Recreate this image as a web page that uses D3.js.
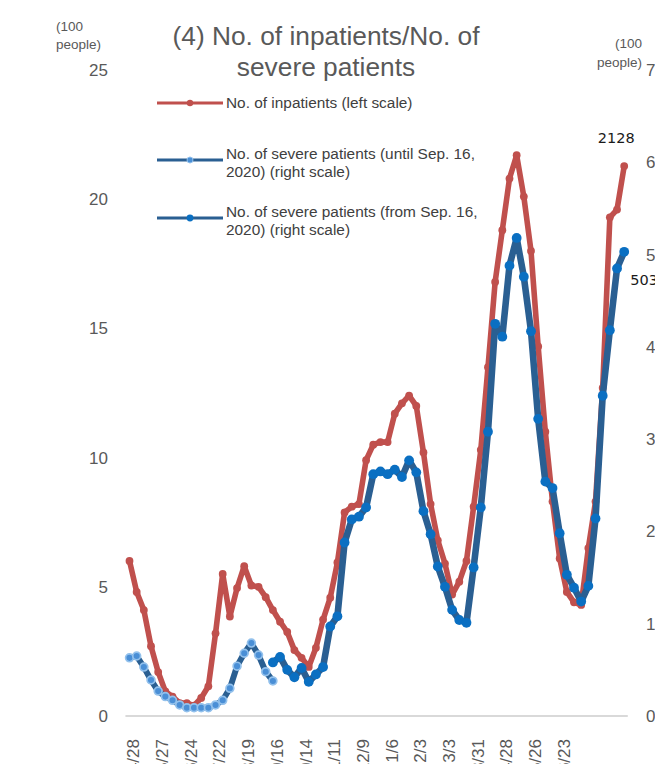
<!DOCTYPE html>
<html><head><meta charset="utf-8">
<script src="https://cdn.jsdelivr.net/npm/d3@7"></script>
<style>html,body{margin:0;padding:0;background:#fff;overflow:hidden}</style>
</head><body>
<svg id="c" width="655" height="764"></svg>
<script>
// Weekly report dates (category axis)
const dates = [
 "2020/4/28","2020/5/6","2020/5/13","2020/5/20","2020/5/27","2020/6/3","2020/6/10","2020/6/17","2020/6/24","2020/7/1",
 "2020/7/8","2020/7/15","2020/7/22","2020/7/29","2020/8/5","2020/8/12","2020/8/19","2020/8/26","2020/9/2","2020/9/9",
 "2020/9/16","2020/9/23","2020/9/30","2020/10/7","2020/10/14","2020/10/21","2020/10/28","2020/11/4","2020/11/11","2020/11/18",
 "2020/11/25","2020/12/2","2020/12/9","2020/12/16","2020/12/23","2020/12/30","2021/1/6","2021/1/13","2021/1/20","2021/1/27",
 "2021/2/3","2021/2/10","2021/2/17","2021/2/24","2021/3/3","2021/3/10","2021/3/17","2021/3/24","2021/3/31","2021/4/7",
 "2021/4/14","2021/4/21","2021/4/28","2021/5/5","2021/5/12","2021/5/19","2021/5/26","2021/6/2","2021/6/9","2021/6/16",
 "2021/6/23","2021/6/30","2021/7/7","2021/7/14","2021/7/21","2021/7/28","2021/8/4","2021/8/11","2021/8/18","2021/8/25"
];
// No. of inpatients (100 people, left scale)
const inpatients = [
 6.0,4.8,4.1,2.7,1.7,0.95,0.75,0.5,0.5,0.4,
 0.7,1.15,3.2,5.5,3.85,4.95,5.8,5.05,5.0,4.6,
 4.1,3.65,3.25,2.55,2.25,1.9,2.64,3.73,4.58,5.94,
 7.88,8.1,8.2,9.9,10.5,10.6,10.6,11.7,12.1,12.4,
 12.0,10.2,8.2,6.8,5.9,4.7,5.2,6.0,8.1,10.3,
 13.5,16.8,18.8,20.8,21.7,20.1,18.0,14.3,11.0,8.3,
 6.1,4.8,4.4,4.3,6.5,8.3,12.7,19.3,19.6,21.28
];
// No. of severe patients until Sep. 16, 2020 (100 people, right scale) — dates[0..20]
const severeUntil = [
 0.63,0.65,0.53,0.39,0.27,0.21,0.17,0.12,0.09,0.09,
 0.09,0.09,0.12,0.17,0.30,0.54,0.68,0.79,0.66,0.48,0.38
];
// No. of severe patients from Sep. 16, 2020 (100 people, right scale) — dates[20..69]
const severeFrom = [
 0.58,0.64,0.50,0.42,0.52,0.37,0.45,0.53,0.97,1.08,
 1.88,2.13,2.16,2.26,2.62,2.65,2.62,2.67,2.59,2.77,
 2.64,2.22,1.97,1.62,1.40,1.15,1.04,1.01,1.61,2.26,
 3.08,4.25,4.11,4.88,5.18,4.76,4.17,3.22,2.54,2.47,
 1.98,1.53,1.39,1.24,1.41,2.14,3.47,4.18,4.85,5.03
];
const leftTicks = [0,5,10,15,20,25];
const rightTicks = [0,1,2,3,4,5,6,7];
const xTickDates = ["2020/4/28","2020/5/27","2020/6/24","2020/7/22","2020/8/19","2020/9/16","2020/10/14","2020/11/11",
 "2020/12/9","2021/1/6","2021/2/3","2021/3/3","2021/3/31","2021/4/28","2021/5/26","2021/6/23"];
const xTickLabels = ["4/28","5/27","6/24","7/22","8/19","9/16","10/14","11/11","12/9","1/6","2/3","3/3","3/31","4/28","5/26","6/23"];
const titleLines = ["(4) No. of inpatients/No. of","severe patients"];
const legendItems = [
 {key:"inp", lines:["No. of inpatients (left scale)"]},
 {key:"until", lines:["No. of severe patients (until Sep. 16,","2020) (right scale)"]},
 {key:"from", lines:["No. of severe patients (from Sep. 16,","2020) (right scale)"]}
];
const lastInpLabel = "2128", lastSevLabel = "503";

const RED = "#C0504D", LINEBLUE = "#2A5F92", DOTBLUE = "#0A6FC2", LIGHTDOT = "#4A8FD6", LIGHTRING = "#93C1EC";
const TXT = "#595959";
const FONT = "Liberation Sans, Arial, sans-serif";

const svg = d3.select("#c");
const x = d3.scalePoint().domain(dates).range([129.5, 624.2]);
const yL = d3.scaleLinear().domain([0,25]).range([716,70]);
const yR = d3.scaleLinear().domain([0,7]).range([716,70]);

// title
svg.append("g").selectAll("text").data(titleLines).join("text")
  .attr("x",326).attr("y",(d,i)=>45+i*31).attr("text-anchor","middle")
  .attr("font-family",FONT).attr("font-size",26.3).attr("fill",TXT).text(d=>d);

// unit labels
svg.append("g").selectAll("text").data(["(100","people)"]).join("text")
  .attr("x",56).attr("y",(d,i)=>31+i*18).attr("font-family",FONT).attr("font-size",13.5).attr("fill",TXT).text(d=>d);
svg.append("g").selectAll("text").data(["(100","people)"]).join("text")
  .attr("x",642).attr("y",(d,i)=>48+i*19).attr("text-anchor","end").attr("font-family",FONT).attr("font-size",13.5).attr("fill",TXT).text(d=>d);

// axes labels
const gl = svg.append("g").attr("transform","translate(108,0)")
  .call(d3.axisLeft(yL).tickValues(leftTicks).tickSize(0).tickPadding(0));
gl.select(".domain").remove();
gl.selectAll("text").attr("font-family",FONT).attr("font-size",17).attr("fill",TXT);
const gr = svg.append("g").attr("transform","translate(646,0)")
  .call(d3.axisRight(yR).tickValues(rightTicks).tickSize(0).tickPadding(0));
gr.select(".domain").remove();
gr.selectAll("text").attr("font-family",FONT).attr("font-size",17).attr("fill",TXT);

// x axis line
const step = x.step();
svg.append("line").attr("x1",x(dates[0])-step/2-0.5).attr("x2",x(dates[dates.length-1])+step/2)
  .attr("y1",yL(0)).attr("y2",yL(0)).attr("stroke","#D9D9D9").attr("stroke-width",2.2);

// x tick labels
svg.append("g").selectAll("text").data(xTickDates).join("text")
  .attr("transform",d=>`translate(${x(d)+4},739) rotate(-90)`)
  .attr("text-anchor","end").attr("dy","0.35em")
  .attr("font-family",FONT).attr("font-size",17).attr("fill",TXT)
  .text((d,i)=>xTickLabels[i]);

// series
const inpData = dates.map((d,i)=>({d, v:inpatients[i]}));
const untilData = severeUntil.map((v,i)=>({d:dates[i], v}));
const fromData = severeFrom.map((v,i)=>({d:dates[i+20], v}));

const lineL = d3.line().x(p=>x(p.d)).y(p=>yL(p.v)).curve(d3.curveLinear);
const lineR = d3.line().x(p=>x(p.d)).y(p=>yR(p.v)).curve(d3.curveLinear);

svg.append("path").datum(inpData).attr("d",lineL).attr("fill","none").attr("stroke",RED)
  .attr("stroke-width",5.6).attr("stroke-linejoin","round").attr("stroke-linecap","round");
svg.append("g").selectAll("circle").data(inpData).join("circle")
  .attr("cx",p=>x(p.d)).attr("cy",p=>yL(p.v)).attr("r",3.9).attr("fill",RED);

svg.append("path").datum(untilData).attr("d",lineR).attr("fill","none").attr("stroke",LINEBLUE)
  .attr("stroke-width",6).attr("stroke-linejoin","round").attr("stroke-linecap","round");
svg.append("g").selectAll("circle").data(untilData).join("circle")
  .attr("cx",p=>x(p.d)).attr("cy",p=>yR(p.v)).attr("r",3.9).attr("fill",LIGHTDOT)
  .attr("stroke",LIGHTRING).attr("stroke-width",1.7);

svg.append("path").datum(fromData).attr("d",lineR).attr("fill","none").attr("stroke",LINEBLUE)
  .attr("stroke-width",6.6).attr("stroke-linejoin","round").attr("stroke-linecap","round");
svg.append("g").selectAll("circle").data(fromData).join("circle")
  .attr("cx",p=>x(p.d)).attr("cy",p=>yR(p.v)).attr("r",4.9).attr("fill",DOTBLUE);

// data labels
const lastI = inpData[inpData.length-1], lastS = fromData[fromData.length-1];
svg.append("text").attr("x",x(lastI.d)-8).attr("y",yL(lastI.v)-23).attr("text-anchor","middle")
  .attr("font-family","DejaVu Sans, sans-serif").attr("font-size",14.5).attr("fill","#1a1a1a").text(lastInpLabel);
svg.append("text").attr("x",x(lastS.d)+6).attr("y",yR(lastS.v)+33)
  .attr("font-family","DejaVu Sans, sans-serif").attr("font-size",14.5).attr("fill","#1a1a1a").text(lastSevLabel);

// legend
const lg = svg.append("g");
const legY = [103,160,218];
legendItems.forEach((it,i)=>{
  const g = lg.append("g").attr("transform",`translate(0,${legY[i]})`);
  g.append("line").attr("x1",157).attr("x2",223).attr("y1",0).attr("y2",0)
    .attr("stroke", it.key==="inp"?RED:LINEBLUE).attr("stroke-width",3.2);
  if(it.key==="inp") g.append("circle").attr("cx",190).attr("cy",0).attr("r",3.2).attr("fill",RED);
  else if(it.key==="until") g.append("circle").attr("cx",190).attr("cy",0).attr("r",3).attr("fill",LIGHTDOT).attr("stroke",LIGHTRING).attr("stroke-width",1);
  else g.append("circle").attr("cx",190).attr("cy",0).attr("r",3.4).attr("fill",DOTBLUE);
  const n = it.lines.length;
  g.selectAll("text").data(it.lines).join("text")
    .attr("x",226).attr("y",(d,j)=> (n===1?5:-1+j*18))
    .attr("font-family",FONT).attr("font-size",15.4).attr("fill","#404040").text(d=>d);
});
</script>
</body></html>
